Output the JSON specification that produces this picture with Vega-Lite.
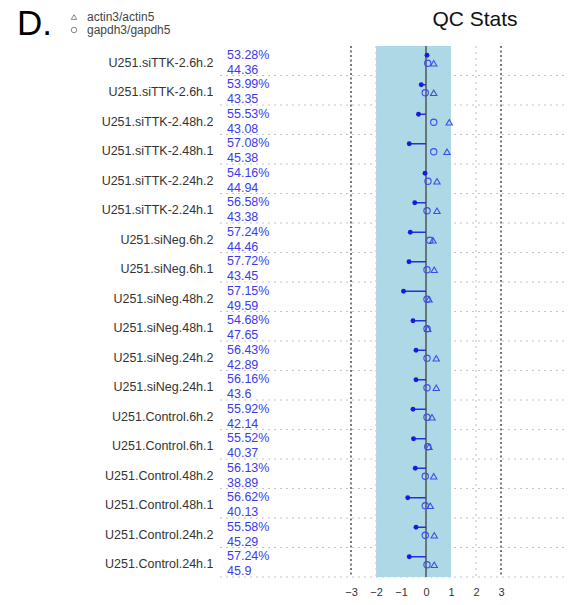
{
  "$schema": "https://vega.github.io/schema/vega-lite/v6.json",
  "width": 348,
  "height": 531,
  "autosize": {"type": "none"},
  "padding": {"left": 220, "top": 46, "right": 3, "bottom": 28},
  "config": {
    "view": {"stroke": null},
    "font": "Liberation Sans",
    "axisX": {"domain": false, "ticks": false, "grid": false, "labelPadding": 9, "labelFontSize": 11, "labelColor": "#333333", "labelFont": "Liberation Sans"},
    "axisY": {"domain": false, "ticks": false, "grid": false, "labelPadding": 7, "labelFontSize": 12.5, "labelColor": "#333333", "labelFont": "Liberation Sans", "labelLimit": 0}
  },
  "title": {"text": "QC Stats", "fontSize": 21, "fontWeight": "normal", "color": "#111111", "font": "Liberation Sans", "anchor": "middle", "frame": "group", "dx": 81, "offset": -36, "baseline": "alphabetic"},
  "data": {
    "values": [
      {"sample": "U251.siTTK-2.6h.2", "pct": 0.5328, "num": 44.36, "delta": 0.04, "actin": 0.31, "gapdh": 0.07},
      {"sample": "U251.siTTK-2.6h.1", "pct": 0.5399, "num": 43.35, "delta": -0.19, "actin": 0.31, "gapdh": -0.03},
      {"sample": "U251.siTTK-2.48h.2", "pct": 0.5553, "num": 43.08, "delta": -0.3, "actin": 0.93, "gapdh": 0.31},
      {"sample": "U251.siTTK-2.48h.1", "pct": 0.5708, "num": 45.38, "delta": -0.67, "actin": 0.84, "gapdh": 0.31},
      {"sample": "U251.siTTK-2.24h.2", "pct": 0.5416, "num": 44.94, "delta": -0.04, "actin": 0.44, "gapdh": 0.08},
      {"sample": "U251.siTTK-2.24h.1", "pct": 0.5658, "num": 43.38, "delta": -0.45, "actin": 0.44, "gapdh": 0.04},
      {"sample": "U251.siNeg.6h.2", "pct": 0.5724, "num": 44.46, "delta": -0.63, "actin": 0.28, "gapdh": 0.15},
      {"sample": "U251.siNeg.6h.1", "pct": 0.5772, "num": 43.45, "delta": -0.68, "actin": 0.33, "gapdh": 0.04},
      {"sample": "U251.siNeg.48h.2", "pct": 0.5715, "num": 49.59, "delta": -0.9, "actin": 0.12, "gapdh": 0.04},
      {"sample": "U251.siNeg.48h.1", "pct": 0.5468, "num": 47.65, "delta": -0.52, "actin": 0.07, "gapdh": 0.04},
      {"sample": "U251.siNeg.24h.2", "pct": 0.5643, "num": 42.89, "delta": -0.4, "actin": 0.41, "gapdh": 0.04},
      {"sample": "U251.siNeg.24h.1", "pct": 0.5616, "num": 43.6, "delta": -0.4, "actin": 0.41, "gapdh": 0.04},
      {"sample": "U251.Control.6h.2", "pct": 0.5592, "num": 42.14, "delta": -0.52, "actin": 0.24, "gapdh": 0.04},
      {"sample": "U251.Control.6h.1", "pct": 0.5552, "num": 40.37, "delta": -0.5, "actin": 0.12, "gapdh": 0.07},
      {"sample": "U251.Control.48h.2", "pct": 0.5613, "num": 38.89, "delta": -0.43, "actin": 0.31, "gapdh": -0.03},
      {"sample": "U251.Control.48h.1", "pct": 0.5662, "num": 40.13, "delta": -0.73, "actin": 0.17, "gapdh": -0.03},
      {"sample": "U251.Control.24h.2", "pct": 0.5558, "num": 45.29, "delta": -0.4, "actin": 0.33, "gapdh": -0.03},
      {"sample": "U251.Control.24h.1", "pct": 0.5724, "num": 45.9, "delta": -0.67, "actin": 0.33, "gapdh": 0.04}
    ]
  },
  "layer": [
    {
      "mark": {"type": "rule", "color": "#c4c4c4", "strokeDash": [2, 4], "strokeWidth": 1, "yOffset": 14.75},
      "encoding": {
        "x": {"datum": -8.24, "type": "quantitative", "title": null, "scale": {"domain": [-8.24, 5.68], "nice": false}, "axis": {"title": null, "values": [-3, -2, -1, 0, 1, 2, 3], "format": "d"}},
        "x2": {"datum": 5.68},
        "y": {"field": "sample", "type": "nominal", "sort": null, "title": null, "scale": {"paddingInner": 0, "paddingOuter": 0}, "axis": {"title": null, "labelOffset": 2}}
      }
    },
    {
      "data": {"values": [{"lo": -2, "hi": 1}]},
      "mark": {"type": "rect", "color": "#add8e6"},
      "encoding": {
        "x": {"field": "lo", "type": "quantitative", "title": null, "axis": {"title": null, "values": [-3, -2, -1, 0, 1, 2, 3], "format": "d"}},
        "x2": {"field": "hi"}
      }
    },
    {
      "data": {"values": [{"ref": -2}, {"ref": 2}]},
      "mark": {"type": "rule", "color": "#e6cccc", "strokeDash": [2, 4], "strokeWidth": 1.5},
      "encoding": {"x": {"field": "ref", "type": "quantitative", "title": null, "axis": {"title": null, "values": [-3, -2, -1, 0, 1, 2, 3], "format": "d"}}}
    },
    {
      "data": {"values": [{"ref": -3}, {"ref": 3}]},
      "mark": {"type": "rule", "color": "#7a7a7a", "strokeDash": [2, 2.5], "strokeWidth": 2},
      "encoding": {"x": {"field": "ref", "type": "quantitative", "title": null, "axis": {"title": null, "values": [-3, -2, -1, 0, 1, 2, 3], "format": "d"}}}
    },
    {
      "data": {"values": [{"ref": 0}]},
      "mark": {"type": "rule", "color": "#555555", "strokeWidth": 1.5},
      "encoding": {"x": {"field": "ref", "type": "quantitative", "title": null, "axis": {"title": null, "values": [-3, -2, -1, 0, 1, 2, 3], "format": "d"}}}
    },
    {
      "mark": {"type": "rule", "color": "#2233dd", "strokeWidth": 1.5, "yOffset": -5.5},
      "encoding": {
        "x": {"field": "delta", "type": "quantitative", "title": null, "axis": {"title": null, "values": [-3, -2, -1, 0, 1, 2, 3], "format": "d"}},
        "x2": {"datum": 0},
        "y": {"field": "sample", "type": "nominal", "sort": null, "title": null, "axis": {"title": null, "labelOffset": 2}}
      }
    },
    {
      "mark": {"type": "point", "filled": true, "size": 24, "color": "#1a1add", "opacity": 1, "yOffset": -5.5},
      "encoding": {
        "x": {"field": "delta", "type": "quantitative", "title": null, "axis": {"title": null, "values": [-3, -2, -1, 0, 1, 2, 3], "format": "d"}},
        "y": {"field": "sample", "type": "nominal", "sort": null, "title": null, "axis": {"title": null, "labelOffset": 2}}
      }
    },
    {
      "mark": {"type": "point", "filled": false, "size": 40, "strokeWidth": 1.1, "color": "#3a4ee8", "opacity": 1, "yOffset": 2.5},
      "encoding": {
        "x": {"field": "actin", "type": "quantitative", "title": null, "axis": {"title": null, "values": [-3, -2, -1, 0, 1, 2, 3], "format": "d"}},
        "y": {"field": "sample", "type": "nominal", "sort": null, "title": null, "axis": {"title": null, "labelOffset": 2}},
        "shape": {
          "datum": "actin3/actin5", "type": "nominal",
          "scale": {"domain": ["actin3/actin5", "gapdh3/gapdh5"], "range": ["triangle-up", "circle"]},
          "legend": {"title": "D.", "orient": "none", "legendX": -203, "legendY": -35, "titleOrient": "left", "titleFontSize": 35, "titleFontWeight": "normal", "titleColor": "#000000", "titleFont": "Liberation Sans", "titlePadding": 16, "labelFontSize": 12, "labelColor": "#444444", "labelFont": "Liberation Sans", "labelOffset": 7, "symbolStrokeColor": "#888888", "symbolFillColor": "transparent", "symbolSize": 30, "symbolStrokeWidth": 1, "rowPadding": 1}
        }
      }
    },
    {
      "mark": {"type": "point", "filled": false, "size": 40, "strokeWidth": 1.1, "color": "#3a4ee8", "opacity": 1, "yOffset": 2.5},
      "encoding": {
        "x": {"field": "gapdh", "type": "quantitative", "title": null, "axis": {"title": null, "values": [-3, -2, -1, 0, 1, 2, 3], "format": "d"}},
        "y": {"field": "sample", "type": "nominal", "sort": null, "title": null, "axis": {"title": null, "labelOffset": 2}},
        "shape": {"datum": "gapdh3/gapdh5", "type": "nominal", "legend": null}
      }
    },
    {
      "mark": {"type": "text", "align": "left", "baseline": "middle", "dx": 7, "yOffset": -6.25, "fontSize": 12.5, "color": "#3b3bea"},
      "encoding": {
        "x": {"datum": -8.24, "type": "quantitative", "title": null, "axis": {"title": null, "values": [-3, -2, -1, 0, 1, 2, 3], "format": "d"}},
        "y": {"field": "sample", "type": "nominal", "sort": null, "title": null, "axis": {"title": null, "labelOffset": 2}},
        "text": {"field": "pct", "type": "quantitative", "format": ".2%"}
      }
    },
    {
      "mark": {"type": "text", "align": "left", "baseline": "middle", "dx": 7, "yOffset": 9, "fontSize": 12.5, "color": "#3b3bea"},
      "encoding": {
        "x": {"datum": -8.24, "type": "quantitative", "title": null, "axis": {"title": null, "values": [-3, -2, -1, 0, 1, 2, 3], "format": "d"}},
        "y": {"field": "sample", "type": "nominal", "sort": null, "title": null, "axis": {"title": null, "labelOffset": 2}},
        "text": {"field": "num", "type": "quantitative"}
      }
    }
  ]
}
